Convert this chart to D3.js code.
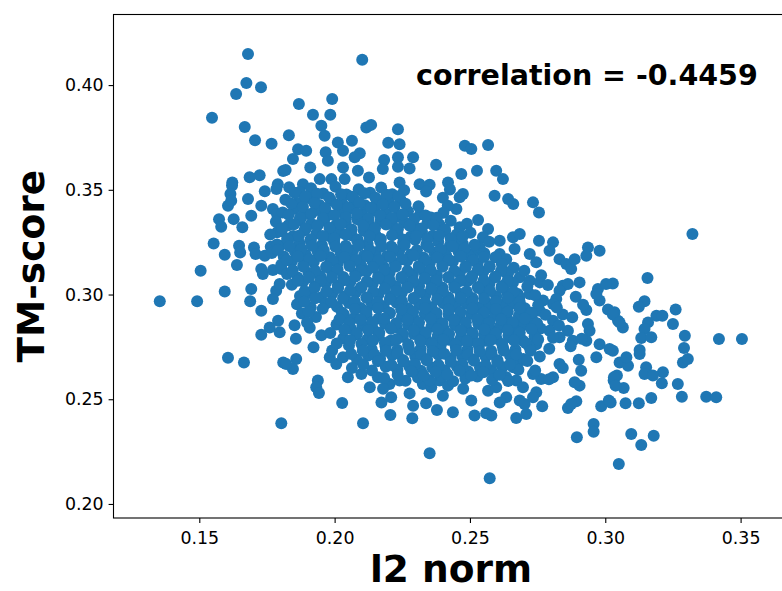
<!DOCTYPE html>
<html>
<head>
<meta charset="utf-8">
<script src="https://cdn.jsdelivr.net/npm/d3@7"></script>
<style>
  body { margin: 0; background: #fff; }
  svg { display: block; font-family: "DejaVu Sans", sans-serif; }
</style>
</head>
<body>
<svg width="782" height="591"></svg>
<script>
// tick values and labels
var xTicks = [0.15, 0.20, 0.25, 0.30, 0.35];
var xTickLabels = ['0.15', '0.20', '0.25', '0.30', '0.35'];
var yTicks = [0.20, 0.25, 0.30, 0.35, 0.40];
var yTickLabels = ['0.20', '0.25', '0.30', '0.35', '0.40'];
var correlationLabel = 'correlation = -0.4459';

//* sparse points around the edge of the cloud, [l2 norm, TM-score]
var outerPoints = [
  [0.1680,0.4148],[0.1674,0.4010],[0.1728,0.3990],[0.1636,0.3957],[0.1547,0.3844],[0.1668,0.3800],
  [0.1706,0.3737],[0.1767,0.3720],[0.1810,0.3590],[0.1723,0.3570],[0.1686,0.3560],[0.1622,0.3535],
  [0.1790,0.3527],[0.2102,0.4121],[0.1868,0.3910],[0.1991,0.3933],[0.1920,0.3858],[0.1984,0.3858],
  [0.1951,0.3806],[0.2117,0.3798],[0.2135,0.3810],[0.2234,0.3789],[0.1831,0.3760],[0.1963,0.3758],
  [0.2012,0.3726],[0.2064,0.3734],[0.2198,0.3725],[0.2240,0.3718],[0.1865,0.3694],[0.1895,0.3686],
  [0.1967,0.3679],[0.2031,0.3686],[0.2093,0.3674],[0.2290,0.3655],[0.1846,0.3647],[0.1975,0.3639],
  [0.2074,0.3655],[0.2183,0.3642],[0.2234,0.3655],[0.2375,0.3620],[0.1819,0.3594],[0.1910,0.3607],
  [0.2031,0.3607],[0.2086,0.3591],[0.2178,0.3599],[0.2234,0.3610],[0.2277,0.3602],[0.1945,0.3551],
  [0.1988,0.3551],[0.2037,0.3551],[0.2127,0.3559],[0.1883,0.3527],[0.2240,0.3535],[0.2314,0.3527],
  [0.2351,0.3524],[0.2419,0.3535],[0.2481,0.3710],[0.2505,0.3695],[0.2567,0.3714],[0.2468,0.3575],
  [0.2526,0.3591],[0.2597,0.3591],[0.2622,0.3551],
  [0.1621,0.3520],[0.1615,0.3480],[0.1606,0.3424],[0.1618,0.3448],[0.1680,0.3456],[0.1742,0.3493],
  [0.1785,0.3504],[0.1729,0.3424],[0.1772,0.3408],[0.1692,0.3376],[0.1573,0.3360],[0.1581,0.3324],
  [0.1627,0.3360],[0.1659,0.3321],[0.1787,0.3384],[0.1788,0.3297],[0.1553,0.3244],[0.1647,0.3233],
  [0.1651,0.3201],[0.1702,0.3225],[0.1708,0.3193],[0.1764,0.3228],[0.1797,0.3233],[0.1594,0.3190],
  [0.1742,0.3185],[0.1639,0.3141],[0.1505,0.3114],[0.1729,0.3122],[0.1735,0.3098],[0.1772,0.3117],
  [0.1803,0.3122],[0.1594,0.3015],[0.1692,0.3026],[0.1784,0.3018],[0.1797,0.3050],[0.1354,0.2968],
  [0.1492,0.2968],[0.1688,0.2968],[0.1772,0.2979],[0.1729,0.2923],[0.1791,0.2875],[0.1760,0.2843],
  [0.1729,0.2808],[0.1797,0.2820],[0.1606,0.2698],[0.1665,0.2676],[0.1810,0.2676],[0.1803,0.2385],
  [0.1858,0.2692],[0.1846,0.2644],[0.1821,0.2668],[0.1938,0.2589],[0.1932,0.2557],[0.1942,0.2530],
  [0.1982,0.2700],[0.2006,0.2668],[0.2049,0.2605],[0.2028,0.2482],[0.2105,0.2385],[0.2099,0.2620],
  [0.2130,0.2557],[0.2160,0.2605],[0.2173,0.2485],[0.2209,0.2510],[0.2206,0.2425],[0.2287,0.2409],
  [0.2290,0.2469],[0.2277,0.2528],[0.2338,0.2481],[0.2378,0.2449],[0.2400,0.2517],[0.2437,0.2438],
  [0.2351,0.2242],[0.2203,0.2573],[0.2240,0.2589],[0.2179,0.2550],[0.2326,0.2573],[0.2357,0.2557],
  [0.2388,0.2589],[0.2419,0.2565],
  [0.2573,0.2123],[0.2895,0.2318],[0.2957,0.2382],[0.2957,0.2345],[0.3050,0.2191],[0.2517,0.2422],
  [0.2579,0.2422],[0.2560,0.2433],[0.2671,0.2411],[0.2708,0.2430],[0.2767,0.2467],[0.2862,0.2458],
  [0.2893,0.2490],[0.2874,0.2477],[0.2985,0.2467],[0.3013,0.2494],[0.3020,0.2485],[0.2475,0.2550],
  [0.2505,0.2494],[0.2567,0.2541],[0.2597,0.2557],[0.2634,0.2510],[0.2610,0.2485],[0.2684,0.2494],
  [0.2702,0.2477],[0.2745,0.2533],[0.2733,0.2510],[0.2634,0.2605],[0.2671,0.2589],[0.2696,0.2557],
  [0.2763,0.2597],[0.2905,0.2565],[0.2887,0.2581],[0.2911,0.2636],[0.3031,0.2589],[0.3043,0.2613],
  [0.3053,0.2676],[0.2660,0.2653],[0.2684,0.2684],[0.2733,0.2620],[0.2807,0.2605],[0.2831,0.2668],
  [0.2967,0.2700],
  [0.3096,0.2334],[0.3133,0.2282],[0.3179,0.2326],[0.3075,0.2481],[0.3124,0.2481],[0.3170,0.2506],
  [0.3283,0.2512],[0.3373,0.2512],[0.3410,0.2509],[0.3268,0.2573],[0.3209,0.2576],[0.3213,0.2629],
  [0.3151,0.2653],[0.3145,0.2620],[0.3176,0.2613],[0.3068,0.2554],[0.3032,0.2605],[0.3038,0.2565],
  [0.3084,0.2660],[0.3078,0.2700],[0.3287,0.2676],[0.3305,0.2692],[0.3127,0.2716],
  [0.3322,0.3289],[0.3156,0.3079],[0.3145,0.2968],[0.3124,0.2942],[0.3260,0.2929],[0.3189,0.2899],
  [0.3211,0.2899],[0.3250,0.2859],[0.3158,0.2867],[0.3145,0.2835],[0.3133,0.2792],[0.3170,0.2796],
  [0.3294,0.2803],[0.3420,0.2788],[0.3505,0.2788],[0.3291,0.2745],[0.3127,0.2735],[0.3028,0.2732],
  [0.3034,0.2915],[0.3065,0.2843],[0.3047,0.2875],[0.3028,0.3053]
];

//* points on the right half of the main cloud
var midPoints = [
  [0.2474,0.3480],[0.2462,0.3464],[0.2591,0.3472],[0.2641,0.3456],[0.2660,0.3432],[0.2733,0.3440],
  [0.2755,0.3392],[0.2450,0.3408],[0.2530,0.3356],[0.2462,0.3321],[0.2567,0.3313],[0.2548,0.3273],
  [0.2610,0.3257],[0.2659,0.3273],[0.2684,0.3289],[0.2665,0.3217],[0.2755,0.3257],[0.2807,0.3249],
  [0.2794,0.3209],[0.2721,0.3193],[0.2745,0.3154],[0.2831,0.3169],[0.2856,0.3146],[0.2874,0.3122],
  [0.2887,0.3169],[0.2936,0.3225],[0.2930,0.3185],[0.2979,0.3209],[0.2512,0.3193],[0.2610,0.3193],
  [0.2634,0.3169],[0.2474,0.3241],[0.2536,0.3225],[0.2493,0.3066],[0.2548,0.3050],[0.2641,0.3106],
  [0.2684,0.3082],[0.2721,0.3066],[0.2758,0.3058],[0.2843,0.3042],[0.2862,0.3050],[0.2905,0.3058],
  [0.2973,0.3026],[0.3003,0.3050],[0.2831,0.3018],[0.2819,0.2979],[0.2807,0.2955],[0.2979,0.2971],
  [0.2967,0.3003],[0.3010,0.2929],[0.3028,0.2905],[0.3053,0.2867],[0.2930,0.2926],[0.2936,0.2859],
  [0.2942,0.2827],[0.2843,0.2905],[0.2807,0.2875],[0.2862,0.2827],[0.2770,0.2971],[0.2721,0.3003],
  [0.2677,0.3003],[0.2634,0.2963],[0.2758,0.2923],[0.2708,0.2899],[0.2610,0.2923],[0.2560,0.2931],
  [0.2511,0.2955],[0.2462,0.2971],[0.2530,0.2875],[0.2573,0.2875],[0.2622,0.2859],[0.2671,0.2859],
  [0.2745,0.2843],[0.2794,0.2827],[0.2831,0.2796],[0.2880,0.2779],[0.2930,0.2779],[0.2979,0.2763],
  [0.3016,0.2740],[0.2610,0.2843],[0.2647,0.2796],[0.2696,0.2779],[0.2745,0.2763],[0.2511,0.2811],
  [0.2560,0.2779],[0.2462,0.2779]
];

//* dense core of the cloud
var corePoints = [
  [0.1832,0.3512],[0.1871,0.3489],[0.1913,0.3507],[0.1958,0.3482],[0.2003,0.3515],[0.2044,0.3478],
  [0.2089,0.3503],[0.2131,0.3486],[0.2172,0.3511],[0.2213,0.3479],[0.2257,0.3498],[0.2338,0.3492],
  [0.2426,0.3502],
  [0.1818,0.3452],[0.1862,0.3437],[0.1903,0.3461],[0.1944,0.3428],[0.1986,0.3449],[0.2029,0.3433],
  [0.2071,0.3458],[0.2112,0.3426],[0.2158,0.3447],[0.2199,0.3439],[0.2243,0.3455],[0.2400,0.3462],
  [0.2418,0.3424],
  [0.1808,0.3392],[0.1851,0.3409],[0.1893,0.3384],[0.1935,0.3403],[0.1978,0.3381],[0.2021,0.3397],
  [0.2062,0.3412],[0.2104,0.3379],[0.2147,0.3401],[0.2189,0.3388],[0.2232,0.3371],[0.2271,0.3398],
  [0.2316,0.3383],[0.2356,0.3368],[0.2402,0.3391],
  [0.1783,0.3348],[0.1829,0.3331],[0.1872,0.3355],[0.1913,0.3338],[0.1961,0.3352],[0.2002,0.3327],
  [0.2041,0.3344],[0.2084,0.3359],[0.2128,0.3332],[0.2169,0.3349],[0.2211,0.3336],[0.2258,0.3345],
  [0.2297,0.3322],[0.2343,0.3341],[0.2387,0.3334],[0.2429,0.3352],[0.2489,0.3338],
  [0.1762,0.3286],[0.1804,0.3302],[0.1847,0.3279],[0.1889,0.3307],[0.1933,0.3291],[0.1984,0.3277],
  [0.2018,0.3296],[0.2063,0.3283],[0.2108,0.3305],[0.2151,0.3284],[0.2232,0.3292],[0.2281,0.3276],
  [0.2323,0.3299],[0.2362,0.3281],[0.2408,0.3303],[0.2451,0.3287],[0.2502,0.3295],
  [0.1787,0.3239],[0.1826,0.3262],[0.1871,0.3244],[0.1912,0.3257],[0.1953,0.3236],[0.1998,0.3251],
  [0.2041,0.3233],[0.2083,0.3259],[0.2122,0.3241],[0.2168,0.3254],[0.2209,0.3229],[0.2253,0.3247],
  [0.2297,0.3261],[0.2339,0.3238],[0.2383,0.3252],[0.2426,0.3234],[0.2468,0.3249],[0.2517,0.3238],
  [0.2571,0.3252],
  [0.1768,0.3198],[0.1812,0.3181],[0.1853,0.3207],[0.1894,0.3189],[0.1938,0.3203],[0.1982,0.3178],
  [0.2023,0.3196],[0.2068,0.3211],[0.2109,0.3186],[0.2151,0.3201],[0.2193,0.3183],[0.2238,0.3206],
  [0.2281,0.3191],[0.2327,0.3177],[0.2369,0.3199],[0.2412,0.3187],[0.2458,0.3204],[0.2499,0.3182],
  [0.2553,0.3197],[0.2594,0.3178],
  [0.1803,0.3142],[0.1842,0.3159],[0.1884,0.3137],[0.1923,0.3155],[0.1969,0.3133],[0.2012,0.3151],
  [0.2053,0.3164],[0.2098,0.3139],[0.2141,0.3156],[0.2182,0.3131],[0.2223,0.3148],[0.2268,0.3161],
  [0.2311,0.3136],[0.2352,0.3152],[0.2398,0.3141],[0.2437,0.3158],[0.2483,0.3134],[0.2528,0.3149],
  [0.2571,0.3131],[0.2618,0.3146],[0.2662,0.3128],
  [0.1824,0.3098],[0.1863,0.3081],[0.1904,0.3103],[0.1947,0.3089],[0.1991,0.3106],[0.2032,0.3084],
  [0.2076,0.3099],[0.2119,0.3112],[0.2161,0.3087],[0.2203,0.3104],[0.2248,0.3079],[0.2289,0.3096],
  [0.2331,0.3108],[0.2378,0.3091],[0.2421,0.3083],[0.2462,0.3101],[0.2508,0.3088],[0.2549,0.3107],
  [0.2592,0.3082],[0.2639,0.3096],[0.2701,0.3114],[0.2763,0.3092],
  [0.1842,0.3047],[0.1884,0.3062],[0.1927,0.3039],[0.1968,0.3056],[0.2012,0.3043],[0.2058,0.3061],
  [0.2097,0.3034],[0.2141,0.3051],[0.2183,0.3066],[0.2226,0.3038],[0.2269,0.3054],[0.2312,0.3041],
  [0.2357,0.3059],[0.2398,0.3033],[0.2442,0.3049],[0.2487,0.3063],[0.2529,0.3036],[0.2572,0.3052],
  [0.2618,0.3041],[0.2659,0.3057],[0.2712,0.3038],[0.2788,0.3046],
  [0.1872,0.2993],[0.1903,0.3008],[0.1949,0.2986],[0.1991,0.3004],[0.2036,0.2991],[0.2079,0.3012],
  [0.2121,0.2983],[0.2162,0.3001],[0.2207,0.2989],[0.2248,0.3007],[0.2292,0.2981],[0.2336,0.2998],
  [0.2378,0.3011],[0.2421,0.2986],[0.2466,0.3003],[0.2509,0.2984],[0.2552,0.3006],[0.2597,0.2992],
  [0.2638,0.3009],[0.2683,0.2987],[0.2741,0.2996],[0.2891,0.2989],
  [0.1861,0.2953],[0.1912,0.2938],[0.1968,0.2957],[0.2009,0.2941],[0.2053,0.2959],[0.2097,0.2936],
  [0.2138,0.2952],[0.2181,0.2944],[0.2229,0.2961],[0.2271,0.2934],[0.2313,0.2951],[0.2358,0.2939],
  [0.2402,0.2958],[0.2443,0.2943],[0.2487,0.2956],[0.2532,0.2937],[0.2573,0.2953],[0.2618,0.2941],
  [0.2661,0.2958],[0.2703,0.2935],[0.2752,0.2949],[0.2821,0.2938],[0.2918,0.2951],
  [0.1879,0.2909],[0.1931,0.2893],[0.2034,0.2906],[0.2072,0.2888],[0.2118,0.2903],[0.2162,0.2886],
  [0.2204,0.2911],[0.2249,0.2894],[0.2291,0.2889],[0.2333,0.2907],[0.2377,0.2884],[0.2421,0.2902],
  [0.2462,0.2889],[0.2504,0.2908],[0.2548,0.2891],[0.2593,0.2904],[0.2637,0.2882],[0.2681,0.2899],
  [0.2729,0.2886],[0.2779,0.2903],[0.2878,0.2892],
  [0.1852,0.2853],[0.1908,0.2841],[0.2007,0.2857],[0.2061,0.2836],[0.2103,0.2852],[0.2141,0.2838],
  [0.2186,0.2861],[0.2229,0.2843],[0.2271,0.2856],[0.2314,0.2832],[0.2358,0.2849],[0.2403,0.2837],
  [0.2444,0.2854],[0.2486,0.2841],[0.2531,0.2859],[0.2572,0.2833],[0.2613,0.2851],[0.2661,0.2839],
  [0.2702,0.2856],[0.2761,0.2838],[0.2829,0.2852],
  [0.1857,0.2789],[0.1951,0.2806],[0.2032,0.2791],[0.2081,0.2809],[0.2121,0.2786],[0.2163,0.2803],
  [0.2208,0.2781],[0.2252,0.2798],[0.2293,0.2812],[0.2338,0.2787],[0.2381,0.2802],[0.2422,0.2784],
  [0.2468,0.2799],[0.2511,0.2781],[0.2553,0.2806],[0.2598,0.2789],[0.2642,0.2803],[0.2688,0.2786],
  [0.2739,0.2801],[0.2807,0.2794],[0.2913,0.2789],
  [0.1922,0.2748],[0.1991,0.2733],[0.2053,0.2756],[0.2137,0.2739],[0.2188,0.2752],[0.2231,0.2736],
  [0.2273,0.2754],[0.2318,0.2741],[0.2361,0.2758],[0.2392,0.2758],[0.2448,0.2749],[0.2491,0.2737],
  [0.2533,0.2755],[0.2578,0.2731],[0.2622,0.2748],[0.2668,0.2736],[0.2719,0.2752],[0.2793,0.2741],
  [0.2872,0.2753],
  [0.2031,0.2701],[0.2083,0.2688],[0.2124,0.2709],[0.2168,0.2693],[0.2212,0.2711],[0.2253,0.2687],
  [0.2298,0.2704],[0.2341,0.2691],[0.2383,0.2712],[0.2428,0.2694],[0.2471,0.2706],[0.2513,0.2689],
  [0.2558,0.2703],[0.2602,0.2686],[0.2648,0.2709],[0.2697,0.2692],[0.2758,0.2704],[0.2902,0.2689],
  [0.2064,0.2649],[0.2138,0.2637],[0.2189,0.2655],[0.2232,0.2641],[0.2276,0.2658],[0.2319,0.2636],
  [0.2361,0.2652],[0.2407,0.2639],[0.2452,0.2656],[0.2493,0.2634],[0.2537,0.2651],[0.2579,0.2638],
  [0.2621,0.2654],[0.2679,0.2641],[0.2741,0.2637],[0.2843,0.2649],
  [0.2183,0.2601],[0.2262,0.2588],[0.2308,0.2604],[0.2351,0.2591],[0.2396,0.2607],[0.2438,0.2586],
  [0.2483,0.2599],[0.2527,0.2609],[0.2582,0.2593],[0.2641,0.2587],[0.2792,0.2596]
];

//* points filling the gaps in the core, where the cloud is solid
var innerPoints = [
  [0.1852,0.3486],[0.1892,0.3468],[0.1935,0.3481],[0.1980,0.3463],[0.2024,0.3479],[0.2066,0.3467],
  [0.2110,0.3484],[0.2151,0.3462],[0.2192,0.3476],[0.2236,0.3469],
  [0.1840,0.3434],[0.1883,0.3418],[0.1925,0.3437],[0.1965,0.3412],[0.2008,0.3429],[0.2050,0.3416],
  [0.2091,0.3438],[0.2134,0.3414],[0.2178,0.3431],[0.2221,0.3418],[0.2262,0.3433],[0.2310,0.3421],
  [0.1830,0.3381],[0.1872,0.3367],[0.1914,0.3386],[0.1957,0.3364],[0.1999,0.3379],[0.2042,0.3369],
  [0.2083,0.3387],[0.2125,0.3362],[0.2168,0.3378],[0.2211,0.3365],[0.2251,0.3383],[0.2294,0.3361],
  [0.2336,0.3377],[0.2378,0.3366],
  [0.1806,0.3317],[0.1850,0.3336],[0.1893,0.3314],[0.1937,0.3331],[0.1981,0.3318],[0.2022,0.3337],
  [0.2063,0.3311],[0.2106,0.3329],[0.2149,0.3316],[0.2190,0.3334],[0.2234,0.3313],[0.2277,0.3328],
  [0.2320,0.3315],[0.2365,0.3332],[0.2408,0.3311],
  [0.1825,0.3266],[0.1868,0.3281],[0.1911,0.3263],[0.1956,0.3279],[0.1999,0.3268],[0.2041,0.3286],
  [0.2085,0.3262],[0.2129,0.3277],[0.2171,0.3265],[0.2212,0.3283],[0.2256,0.3261],[0.2302,0.3279],
  [0.2342,0.3264],[0.2386,0.3282],[0.2429,0.3266],[0.2473,0.3278],
  [0.1790,0.3214],[0.1833,0.3231],[0.1877,0.3217],[0.1916,0.3233],[0.1960,0.3212],[0.2003,0.3228],
  [0.2046,0.3216],[0.2089,0.3234],[0.2130,0.3213],[0.2173,0.3229],[0.2216,0.3218],[0.2259,0.3236],
  [0.2304,0.3211],[0.2347,0.3227],[0.2392,0.3215],[0.2436,0.3231],[0.2480,0.3219],
  [0.1823,0.3164],[0.1864,0.3181],[0.1906,0.3167],[0.1948,0.3184],[0.1992,0.3161],[0.2036,0.3178],
  [0.2079,0.3166],[0.2121,0.3183],[0.2163,0.3162],[0.2206,0.3179],[0.2249,0.3168],[0.2292,0.3186],
  [0.2336,0.3163],[0.2379,0.3177],[0.2422,0.3165],[0.2466,0.3182],[0.2511,0.3164],[0.2552,0.3179],
  [0.1845,0.3116],[0.1885,0.3133],[0.1928,0.3114],[0.1970,0.3131],[0.2011,0.3118],[0.2055,0.3136],
  [0.2098,0.3113],[0.2142,0.3129],[0.2183,0.3117],[0.2226,0.3134],[0.2269,0.3112],[0.2312,0.3128],
  [0.2355,0.3116],[0.2399,0.3133],[0.2442,0.3114],[0.2485,0.3131],[0.2529,0.3118],[0.2573,0.3135],
  [0.2615,0.3113],
  [0.1864,0.3066],[0.1906,0.3082],[0.1948,0.3064],[0.1990,0.3081],[0.2034,0.3068],[0.2077,0.3086],
  [0.2119,0.3063],[0.2162,0.3079],[0.2204,0.3067],[0.2247,0.3084],[0.2291,0.3062],[0.2333,0.3078],
  [0.2377,0.3066],[0.2420,0.3083],[0.2464,0.3064],[0.2507,0.3081],[0.2551,0.3068],[0.2594,0.3085],
  [0.2638,0.3063],
  [0.1889,0.3016],[0.1926,0.3032],[0.1969,0.3014],[0.2013,0.3031],[0.2057,0.3018],[0.2100,0.3036],
  [0.2142,0.3013],[0.2185,0.3029],[0.2227,0.3017],[0.2270,0.3034],[0.2314,0.3012],[0.2357,0.3028],
  [0.2400,0.3016],[0.2443,0.3033],[0.2488,0.3014],[0.2531,0.3031],[0.2574,0.3018],[0.2617,0.3035],
  [0.2661,0.3013],
  [0.1888,0.2966],[0.1928,0.2982],[0.1988,0.2964],[0.2031,0.2981],[0.2074,0.2968],[0.2117,0.2986],
  [0.2159,0.2963],[0.2204,0.2979],[0.2249,0.2967],[0.2292,0.2984],[0.2334,0.2962],[0.2379,0.2978],
  [0.2423,0.2966],[0.2466,0.2983],[0.2509,0.2964],[0.2552,0.2981],[0.2596,0.2968],[0.2640,0.2985],
  [0.2684,0.2963],
  [0.1904,0.2917],[0.1956,0.2932],[0.2027,0.2914],[0.2075,0.2931],[0.2117,0.2918],[0.2160,0.2936],
  [0.2203,0.2913],[0.2246,0.2929],[0.2290,0.2917],[0.2334,0.2934],[0.2377,0.2912],[0.2421,0.2928],
  [0.2465,0.2916],[0.2509,0.2933],[0.2552,0.2914],[0.2596,0.2931],[0.2640,0.2918],[0.2683,0.2935],
  [0.2727,0.2913],
  [0.1898,0.2866],[0.2018,0.2882],[0.2054,0.2864],[0.2096,0.2881],[0.2139,0.2868],[0.2183,0.2886],
  [0.2227,0.2863],[0.2270,0.2879],[0.2312,0.2867],[0.2355,0.2884],[0.2399,0.2862],[0.2442,0.2878],
  [0.2485,0.2866],[0.2527,0.2883],[0.2571,0.2864],[0.2615,0.2881],[0.2659,0.2868],[0.2703,0.2885],
  [0.2748,0.2863],
  [0.1984,0.2816],[0.2036,0.2832],[0.2082,0.2814],[0.2124,0.2831],[0.2165,0.2818],[0.2208,0.2836],
  [0.2251,0.2813],[0.2293,0.2829],[0.2337,0.2817],[0.2380,0.2834],[0.2423,0.2812],[0.2466,0.2828],
  [0.2509,0.2816],[0.2553,0.2833],[0.2596,0.2814],[0.2640,0.2831],[0.2684,0.2818],[0.2727,0.2835],
  [0.2008,0.2766],[0.2057,0.2782],[0.2099,0.2764],[0.2142,0.2781],[0.2186,0.2768],[0.2229,0.2786],
  [0.2272,0.2763],[0.2316,0.2779],[0.2359,0.2767],[0.2402,0.2784],[0.2446,0.2762],[0.2489,0.2778],
  [0.2532,0.2766],[0.2576,0.2783],[0.2619,0.2764],[0.2663,0.2781],[0.2706,0.2768],[0.2752,0.2785],
  [0.2061,0.2716],[0.2104,0.2732],[0.2147,0.2714],[0.2189,0.2731],[0.2232,0.2718],[0.2276,0.2736],
  [0.2319,0.2713],[0.2362,0.2729],[0.2405,0.2717],[0.2449,0.2734],[0.2492,0.2712],[0.2536,0.2728],
  [0.2580,0.2716],[0.2624,0.2733],[0.2671,0.2714],[0.2724,0.2731],
  [0.2106,0.2666],[0.2160,0.2682],[0.2210,0.2664],[0.2254,0.2681],[0.2297,0.2668],[0.2340,0.2686],
  [0.2384,0.2663],[0.2429,0.2679],[0.2472,0.2667],[0.2515,0.2684],[0.2558,0.2662],[0.2601,0.2678],
  [0.2648,0.2666],[0.2712,0.2683],
  [0.2233,0.2616],[0.2284,0.2632],[0.2329,0.2614],[0.2373,0.2631],[0.2417,0.2618],[0.2461,0.2636],
  [0.2505,0.2613],[0.2549,0.2629],[0.2609,0.2617]
];

var allPoints = outerPoints.concat(midPoints, corePoints, innerPoints);

var svg = d3.select('svg');

// plot box; the right spine falls just outside the picture
var plotLeft = 113.5, plotRight = 788.5, plotTop = 14.5, plotBottom = 518;

var x = d3.scaleLinear()
  .domain([0.1183, 0.3677])
  .range([plotLeft, plotRight]);

var y = d3.scaleLinear()
  .domain([0.1933, 0.4337])
  .range([plotBottom, plotTop]);

svg.append('clipPath').attr('id', 'plot-clip')
  .append('rect')
  .attr('x', plotLeft).attr('y', plotTop)
  .attr('width', plotRight - plotLeft).attr('height', plotBottom - plotTop);

//* scatter
svg.append('g')
  .attr('clip-path', 'url(#plot-clip)')
  .selectAll('circle')
  .data(allPoints)
  .enter().append('circle')
  .attr('cx', function (d) { return x(d[0]); })
  .attr('cy', function (d) { return y(d[1]); })
  .attr('r', 6)
  .style('fill', '#1f77b4');

//* axes
var xAxis = d3.axisBottom(x)
  .tickValues(xTicks)
  .tickFormat(function (d, i) { return xTickLabels[i]; })
  .tickSize(4.9)
  .tickPadding(9);

var yAxis = d3.axisLeft(y)
  .tickValues(yTicks)
  .tickFormat(function (d, i) { return yTickLabels[i]; })
  .tickSize(4.9)
  .tickPadding(5);

var gx = svg.append('g')
  .attr('transform', 'translate(0,' + plotBottom + ')')
  .call(xAxis);

var gy = svg.append('g')
  .attr('transform', 'translate(' + plotLeft + ',0)')
  .call(yAxis);

[gx, gy].forEach(function (g) {
  g.select('.domain').remove();
  g.selectAll('line').attr('stroke', '#000').attr('stroke-width', 1.1);
  g.selectAll('text')
    .attr('fill', '#000')
    .style('font-family', '"DejaVu Sans", sans-serif')
    .style('font-size', '17.4px');
});

//* spines
svg.append('rect')
  .attr('x', plotLeft).attr('y', plotTop)
  .attr('width', plotRight - plotLeft).attr('height', plotBottom - plotTop)
  .style('fill', 'none')
  .style('stroke', '#000')
  .style('stroke-width', 1.1);

//* labels
svg.append('text')
  .attr('x', (plotLeft + plotRight) / 2)
  .attr('y', 582)
  .attr('text-anchor', 'middle')
  .style('font-size', '37.5px')
  .style('font-weight', 'bold')
  .text('l2 norm');

svg.append('text')
  .attr('transform', 'translate(44,' + (plotTop + plotBottom) / 2 + ') rotate(-90)')
  .attr('text-anchor', 'middle')
  .style('font-size', '37.5px')
  .style('font-weight', 'bold')
  .text('TM-score');

svg.append('text')
  .attr('x', 416)
  .attr('y', 85)
  .style('font-size', '28.5px')
  .style('font-weight', 'bold')
  .text(correlationLabel);
</script>
</body>
</html>
